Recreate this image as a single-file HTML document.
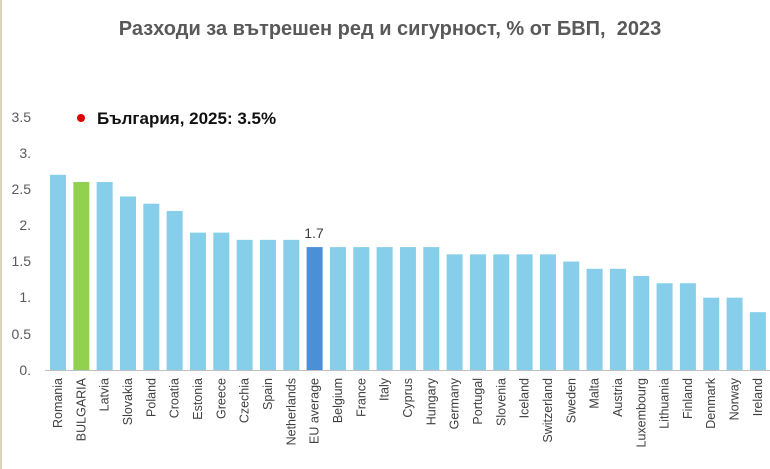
<!DOCTYPE html>
<html><head><meta charset="utf-8"><style>
html,body{margin:0;padding:0;background:#fff;}
svg{display:block;font-family:"Liberation Sans","DejaVu Sans",sans-serif;}
</style></head><body>
<svg width="770" height="469" viewBox="0 0 770 469" xmlns="http://www.w3.org/2000/svg">
<rect x="0" y="0" width="770" height="469" fill="#fff"/>
<rect x="0" y="0" width="2" height="469" fill="#d9d3c0"/>
<text x="390" y="35" text-anchor="middle" font-size="20" font-weight="bold" fill="#595959">Разходи за вътрешен ред и сигурност, % от БВП,&#160; 2023</text>
<g font-size="14" fill="#595959" text-anchor="end">
<text x="31" y="122">3.5</text>
<text x="31" y="158">3.</text>
<text x="31" y="194">2.5</text>
<text x="31" y="230">2.</text>
<text x="31" y="266">1.5</text>
<text x="31" y="302">1.</text>
<text x="31" y="339">0.5</text>
<text x="31" y="375">0.</text>
</g>
<circle cx="81" cy="118" r="4" fill="#e00000"/>
<text x="97" y="124" font-size="17" font-weight="bold" fill="#111">България, 2025: 3.5%</text>
<line x1="45" y1="370.5" x2="770" y2="370.5" stroke="#bfbfbf" stroke-width="1"/>
<g id="bars"></g>
<text x="314" y="238" font-size="14" fill="#404040" text-anchor="middle">1.7</text>
<g id="labels" font-size="12.5" fill="#404040"></g>
<script>
var d=[["Romania",2.7],["BULGARIA",2.6],["Latvia",2.6],["Slovakia",2.4],["Poland",2.3],["Croatia",2.2],["Estonia",1.9],["Greece",1.9],["Czechia",1.8],["Spain",1.8],["Netherlands",1.8],["EU average",1.7],["Belgium",1.7],["France",1.7],["Italy",1.7],["Cyprus",1.7],["Hungary",1.7],["Germany",1.6],["Portugal",1.6],["Slovenia",1.6],["Iceland",1.6],["Switzerland",1.6],["Sweden",1.5],["Malta",1.4],["Austria",1.4],["Luxembourg",1.3],["Lithuania",1.2],["Finland",1.2],["Denmark",1.0],["Norway",1.0],["Ireland",0.8]];
var ns="http://www.w3.org/2000/svg",b=document.getElementById("bars"),l=document.getElementById("labels");
d.forEach(function(e,i){var x=50+i*23.33,h=e[1]*72.3;
var r=document.createElementNS(ns,"rect");r.setAttribute("x",x);r.setAttribute("y",370-h);r.setAttribute("width",16);r.setAttribute("height",h);
r.setAttribute("fill",i==1?"#92d050":(i==11?"#4a90d9":"#87ceeb"));b.appendChild(r);
var t=document.createElementNS(ns,"text");var cx=x+8+4;t.setAttribute("x",cx);t.setAttribute("y",378);t.setAttribute("text-anchor","end");
t.setAttribute("transform","rotate(-90 "+cx+" 378)");t.textContent=e[0];l.appendChild(t);});
</script>
</svg>
</body></html>
